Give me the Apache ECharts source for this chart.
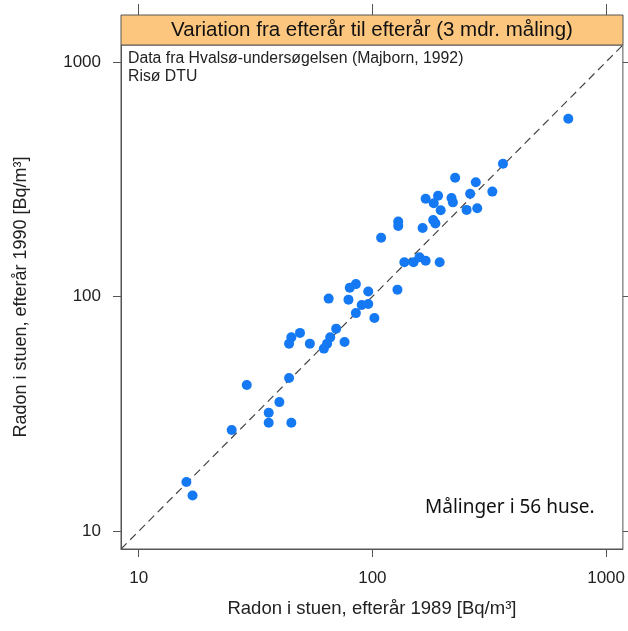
<!DOCTYPE html>
<html>
<head>
<meta charset="utf-8">
<script src="https://cdn.jsdelivr.net/npm/echarts@6/dist/echarts.min.js"></script>
<style>
html,body{margin:0;padding:0;background:#fff;}
#chart{width:628px;height:631px;}
</style>
</head>
<body>
<div id="chart"></div>
<script>
// Radon, autumn 1989 (x) vs autumn 1990 (y), Bq/m3
const radon1989 = [362, 226, 277, 326, 262, 169, 191, 183, 218, 221, 196, 253, 281, 182, 186, 164, 129, 129, 109, 137, 150, 159, 169, 194, 128, 85, 80, 65, 79, 96, 96, 90, 85, 102, 70, 49, 45, 44, 54, 66, 64, 62, 76, 44, 29, 40, 36, 36, 45, 25, 16, 17, 689];
const radon1990 = [368, 321, 307, 280, 274, 261, 269, 250, 263, 252, 233, 234, 238, 212, 205, 196, 209, 200, 178, 140, 140, 147, 142, 140, 107, 113, 109, 98, 97, 105, 93, 92, 85, 81, 73, 70, 67, 63, 63, 67, 63, 60, 64, 45, 42, 35.5, 32, 29, 29, 27, 16.2, 14.2, 572];
const tickValues = [10, 100, 1000];
const axisMin = 8.4;
const axisMax = 1180;
const stripTitle = 'Variation fra efterår til efterår (3 mdr. måling)';
const noteLines = ['Data fra Hvalsø-undersøgelsen (Majborn, 1992)', 'Risø DTU'];
const countNote = 'Målinger i 56 huse.';
const xTitle = 'Radon i stuen, efterår 1989 [Bq/m³]';
const yTitle = 'Radon i stuen, efterår 1990 [Bq/m³]';

const points = radon1989.map((v, i) => [v, radon1990[i]]);
const FONT = '"Liberation Sans", Arial, sans-serif';
const FRAME = '#555';

const chart = echarts.init(document.getElementById('chart'), null, {renderer: 'canvas'});

const baseAxis = {
  type: 'log', logBase: 10, min: axisMin, max: axisMax,
  splitLine: {show: false},
  axisLine: {show: true, lineStyle: {color: FRAME, width: 1}},
  axisTick: {show: true, inside: false, length: 8, customValues: tickValues, lineStyle: {color: FRAME}},
  axisLabel: {show: true, customValues: tickValues, fontSize: 17, color: '#222', fontFamily: FONT,
    formatter: v => String(Math.round(v))}
};

const option = {
  animation: false,
  backgroundColor: '#fff',
  grid: {left: 121, top: 45, width: 502, height: 504, show: true, borderColor: FRAME, borderWidth: 1, containLabel: false},
  xAxis: [
    Object.assign({}, baseAxis, {
      position: 'bottom',
      axisLabel: Object.assign({}, baseAxis.axisLabel, {margin: 21}),
      name: xTitle, nameLocation: 'middle', nameGap: 50,
      nameTextStyle: {fontSize: 18.5, color: '#222', fontFamily: FONT}
    }),
    Object.assign({}, baseAxis, {
      position: 'top', offset: 30,
      axisLine: {show: false},
      axisTick: Object.assign({}, baseAxis.axisTick, {length: 11}),
      axisLabel: {show: false}
    })
  ],
  yAxis: [
    Object.assign({}, baseAxis, {
      position: 'left',
      axisLabel: Object.assign({}, baseAxis.axisLabel, {margin: 20}),
      name: yTitle, nameLocation: 'middle', nameGap: 91,
      nameTextStyle: {fontSize: 18, color: '#222', fontFamily: FONT}
    }),
    Object.assign({}, baseAxis, {
      position: 'right',
      axisLine: {show: false},
      axisLabel: {show: false}
    })
  ],
  series: [
    {
      type: 'line', xAxisIndex: 0, yAxisIndex: 0,
      data: [[axisMin, axisMin], [axisMax, axisMax]],
      symbol: 'none', silent: true,
      lineStyle: {color: '#444', width: 1.2, type: [8, 5]},
      z: 1
    },
    {
      type: 'scatter', xAxisIndex: 0, yAxisIndex: 0,
      data: points, symbol: 'circle', symbolSize: 10,
      itemStyle: {color: '#1479f2', opacity: 1},
      z: 3
    }
  ],
  graphic: [
    {type: 'rect', shape: {x: 121, y: 15, width: 502, height: 30},
      style: {fill: '#fcc67e', stroke: FRAME, lineWidth: 1}, z: 10},
    {type: 'text', x: 372, y: 30, z: 11,
      style: {text: stripTitle, fontSize: 20.5, fontFamily: FONT, fill: '#111', align: 'center', verticalAlign: 'middle'}},
    {type: 'text', x: 128, y: 59, z: 11,
      style: {text: noteLines[0], fontSize: 15.8, fontFamily: FONT, fill: '#222', align: 'left', verticalAlign: 'middle'}},
    {type: 'text', x: 128, y: 77, z: 11,
      style: {text: noteLines[1], fontSize: 15.8, fontFamily: FONT, fill: '#222', align: 'left', verticalAlign: 'middle'}},
    {type: 'text', x: 425, y: 508, z: 11,
      style: {text: countNote, fontSize: 19, fontFamily: '"Noto Sans", sans-serif', fill: '#111', align: 'left', verticalAlign: 'middle'}}
  ]
};
chart.setOption(option);
</script>
</body>
</html>
